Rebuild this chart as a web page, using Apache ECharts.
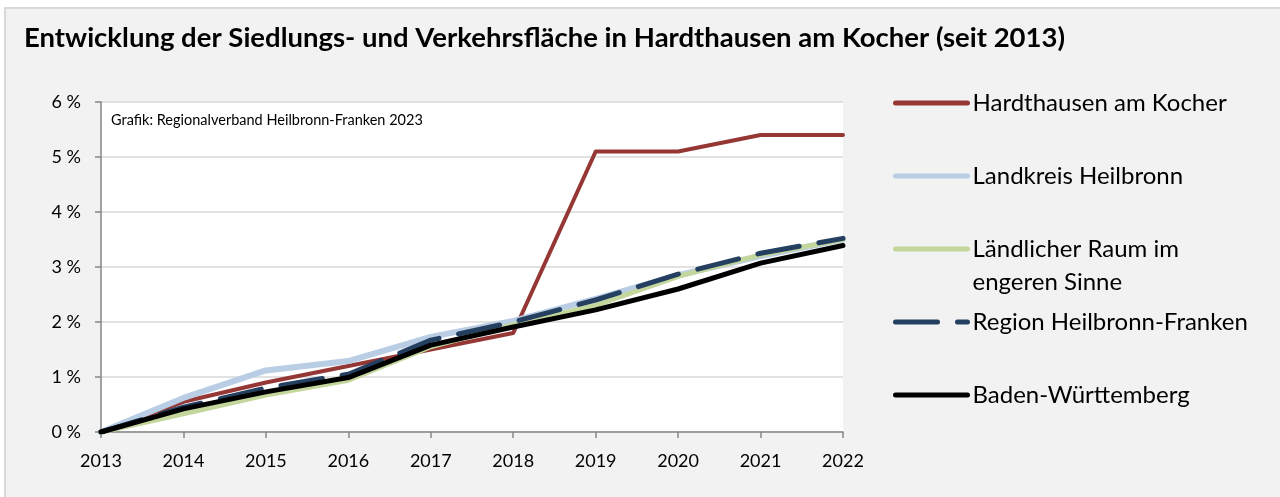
<!DOCTYPE html>
<html>
<head>
<meta charset="utf-8">
<script src="https://cdn.jsdelivr.net/npm/echarts@6/dist/echarts.min.js"></script>
<style>
  html, body { margin: 0; padding: 0; background: #ffffff; overflow: hidden; }
  #frame {
    position: absolute; left: 4px; top: 7px; width: 1290px; height: 500px;
    background: #f2f2f2; border: 2px solid #d9d9d9; box-sizing: border-box;
  }
  #chart { position: absolute; left: 0; top: 0; width: 1280px; height: 497px; }
</style>
</head>
<body>
<div id="frame"></div>
<div id="chart"></div>
<script>
// Jahre und Zuwachs der Siedlungs- und Verkehrsfläche seit 2013 (in %)
const years = ['2013', '2014', '2015', '2016', '2017', '2018', '2019', '2020', '2021', '2022'];
const hardthausen = [0, 0.55, 0.9, 1.2, 1.5, 1.8, 5.1, 5.1, 5.4, 5.4];
const landkreis = [0, 0.62, 1.12, 1.29, 1.73, 2.02, 2.42, 2.85, 3.2, 3.5];
const laendlich = [0, 0.33, 0.67, 0.94, 1.55, 1.95, 2.3, 2.83, 3.22, 3.5];
const region = [0, 0.45, 0.8, 1.05, 1.67, 2.0, 2.4, 2.87, 3.25, 3.52];
const bw = [0, 0.42, 0.73, 0.99, 1.58, 1.91, 2.22, 2.6, 3.07, 3.39];
const yTicks = [0, 1, 2, 3, 4, 5, 6];

const names = ['Hardthausen am Kocher', 'Landkreis Heilbronn', 'Ländlicher Raum im engeren Sinne',
               'Region Heilbronn-Franken', 'Baden-Württemberg'];
const FONT = 'Lato, "Open Sans", sans-serif';

const chart = echarts.init(document.getElementById('chart'));

function lineSeries(name, data, color, width, dash) {
  return {
    name, type: 'line', data, symbol: 'none', smooth: false,
    lineStyle: { color, width, type: dash || 'solid', cap: 'round', join: 'round' },
    itemStyle: { color },
    emphasis: { disabled: true },
    silent: true, animation: false
  };
}

// one legend block per series, stacked on the right;
// the two-line label gets an empty leading line so its first line sits beside the key line
const legendCentres = [103, 176, 249, 322, 395];
const LH = 33;
const legends = names.map((n, i) => {
  const twoLine = i === 2;
  return {
    data: [n], orient: 'vertical', left: 893,
    top: twoLine ? legendCentres[i] - LH * 1.5 : legendCentres[i] - LH / 2,
    itemWidth: 72, itemHeight: 14, itemGap: 0, padding: 0,
    selectedMode: false,
    itemStyle: { opacity: 0, borderWidth: 0 },
    lineStyle: { width: 5, cap: 'round' },
    formatter: twoLine ? ' \nLändlicher Raum im\nengeren Sinne' : '{name}',
    textStyle: { fontFamily: FONT, fontSize: 24, color: '#000', lineHeight: LH }
  };
});

chart.setOption({
  backgroundColor: 'transparent',
  animation: false,
  title: [{
    text: 'Entwicklung der Siedlungs- und Verkehrsfläche in Hardthausen am Kocher (seit 2013)',
    left: 24, top: 24, padding: 0,
    textStyle: { fontFamily: FONT, fontSize: 27.5, fontWeight: 'bold', color: '#000' }
  }, {
    text: 'Grafik: Regionalverband Heilbronn-Franken 2023',
    left: 111, top: 113, padding: 0,
    textStyle: { fontFamily: FONT, fontSize: 14.5, fontWeight: 'normal', color: '#000' }
  }],
  legend: legends,
  grid: {
    left: 101, top: 102, right: 437, bottom: 65,
    show: true, backgroundColor: '#ffffff', borderWidth: 0
  },
  xAxis: {
    type: 'category', data: years, boundaryGap: false,
    axisLine: { lineStyle: { color: '#868686', width: 1.5 } },
    axisTick: { show: true, length: 6, inside: false, alignWithLabel: true, lineStyle: { color: '#868686', width: 1.5 } },
    axisLabel: { fontFamily: FONT, fontSize: 18, color: '#000', margin: 20 },
    splitLine: { show: false }
  },
  yAxis: {
    type: 'value', min: yTicks[0], max: yTicks[yTicks.length - 1], interval: 1,
    axisLine: { show: true, lineStyle: { color: '#868686', width: 1.5 } },
    axisTick: { show: true, length: 6, lineStyle: { color: '#868686', width: 1.5 } },
    axisLabel: { fontFamily: FONT, fontSize: 18, color: '#000', margin: 20, formatter: '{value} %' },
    splitLine: { show: true, lineStyle: { color: '#d9d9d9', width: 1.5 } }
  },
  series: [
    lineSeries(names[0], hardthausen, '#953735', 4),
    lineSeries(names[1], landkreis, '#b9cde5', 6),
    lineSeries(names[2], laendlich, '#c3d69b', 5),
    lineSeries(names[3], region, '#243f60', 5, [42, 20]),
    lineSeries(names[4], bw, '#000000', 5)
  ]
});
</script>
</body>
</html>
